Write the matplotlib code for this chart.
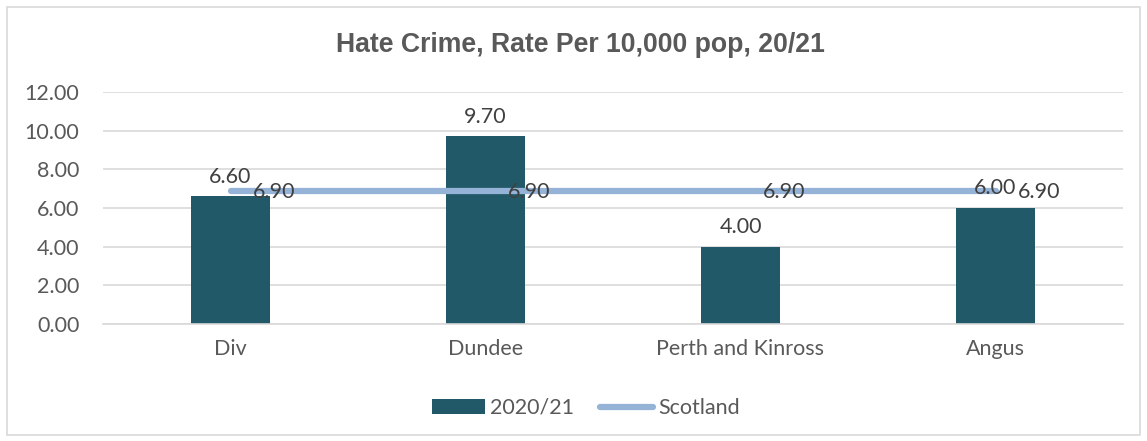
import matplotlib.pyplot as plt
from matplotlib.patches import Rectangle
import numpy as np

# data
categories = ['Div', 'Dundee', 'Perth and Kinross', 'Angus']
rate_2021 = [6.60, 9.70, 4.00, 6.00]
scotland = [6.90, 6.90, 6.90, 6.90]
y_ticks = [0, 2, 4, 6, 8, 10, 12]

bar_color = '#215968'
line_color = '#95B3D7'
text_color = '#595959'
label_font = 'Lato'
fs = 15.5

fig = plt.figure(figsize=(11.47, 4.41), dpi=100)
ax = fig.add_axes([103 / 1147, 1 - 324 / 441, 1020 / 1147, 232 / 441])

x = np.arange(len(categories))
bars = ax.bar(x, rate_2021, width=0.31, color=bar_color, zorder=2, label='2020/21')
line, = ax.plot(x, scotland, color=line_color, lw=4.5, solid_capstyle='round',
                zorder=3, label='Scotland')

# data labels
for xi, v in zip(x, rate_2021):
    ax.annotate(f'{v:.2f}', (xi, v), xytext=(0, 7), textcoords='offset points',
                ha='center', va='bottom', fontsize=fs, color='#404040',
                family=label_font, zorder=4)
for xi, v in zip(x, scotland):
    ax.annotate(f'{v:.2f}', (xi, v), xytext=(16, -1), textcoords='offset points',
                ha='left', va='center', fontsize=fs, color='#404040',
                family=label_font, zorder=4)

ax.set_xlim(-0.5, len(categories) - 0.5)
ax.set_ylim(0, 12)
ax.set_yticks(y_ticks)
ax.set_yticklabels([f'{t:.2f}' for t in y_ticks], family=label_font,
                   fontsize=fs, color=text_color)
ax.set_xticks(x)
ax.set_xticklabels(categories, family=label_font, fontsize=fs, color=text_color)
ax.tick_params(length=0, axis='y', pad=17)
ax.tick_params(length=0, axis='x', pad=11)
ax.grid(axis='y', color='#D9D9D9', lw=1.2, zorder=0)
for s in ax.spines.values():
    s.set_visible(False)
ax.spines['bottom'].set_visible(True)
ax.spines['bottom'].set_color('#D9D9D9')
ax.spines['bottom'].set_linewidth(1.2)

fig.text(0.506, 1 - 45 / 441, 'Hate Crime, Rate Per 10,000 pop, 20/21',
         ha='center', va='center', fontsize=19.2, fontweight='bold',
         color=text_color, family='Liberation Sans')

fig.legend(handles=[bars, line], loc='center', bbox_to_anchor=(0.511, 1 - 408 / 441),
           ncol=2, frameon=False, prop={'family': label_font, 'size': fs},
           labelcolor=text_color, handlelength=2.45, handleheight=0.65,
           handletextpad=0.25, columnspacing=1.2)

fig.patches.append(Rectangle((7 / 1147, 6 / 441), 1133 / 1147, 428 / 441,
                             transform=fig.transFigure, fill=False,
                             edgecolor='#D9D9D9', lw=1.2))

fig.savefig('out.png', dpi=100)
